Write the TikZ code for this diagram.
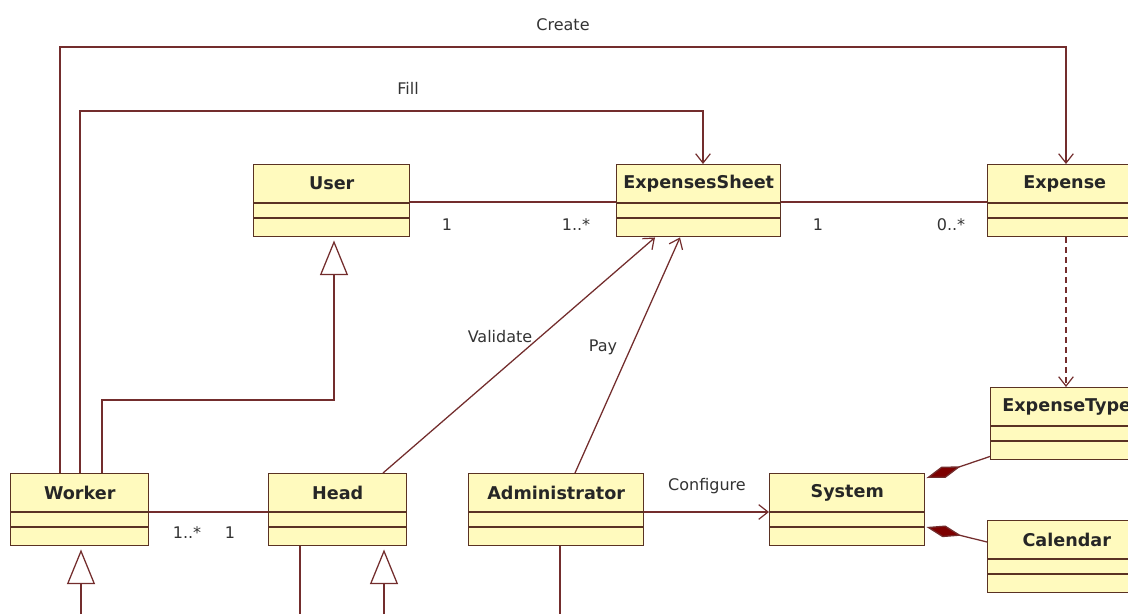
\documentclass[tikz,border=0pt]{standalone}
\usepackage{fontspec}
\setmainfont{DejaVu Sans}
\usetikzlibrary{arrows.meta,calc}

\definecolor{boxfill}{RGB}{255,250,190}
\definecolor{boxedge}{RGB}{90,50,35}
\definecolor{wire}{RGB}{115,45,45}
\definecolor{compfill}{RGB}{125,0,0}

\tikzset{
  classbox/.style={draw=boxedge, line width=1.1pt, fill=boxfill, rectangle,
                   inner sep=0pt, minimum height=54pt},
  classname/.style={font=\bfseries\fontsize{13.2}{15}\selectfont, text=black!85, inner sep=0pt},
  divider/.style={draw=boxedge, line width=1.1pt},
  wirestyle/.style={draw=wire, line width=0.95pt},
  opentip/.style={-{Straight Barb[length=7pt,width=11pt,line width=0.9pt]}},
  gentip/.style={-{Triangle[open,length=26pt,width=21pt,fill=white]}},
  comptip/.style={-{Diamond[length=27pt,width=9pt,fill=compfill]}},
  lbl/.style={font=\fontsize{12}{14}\selectfont, text=black!80, inner sep=0pt},
  dependency/.style={dash pattern=on 4.5pt off 3pt},
}

% class box: name, left x, top y, width (all in pixels), title
\newcommand{\umlclass}[5]{%
  \node[classbox, anchor=north west, minimum width=#4*0.75pt] (#1) at (#2,#3) {};
  \node[classname] (#1-name) at ($(#1.north)+(0,19.5)$) {#5};
  \draw[divider] ($(#1.north west)+(0,39)$) -- ($(#1.north east)+(0,39)$);
  \draw[divider] ($(#1.north west)+(0,54)$) -- ($(#1.north east)+(0,54)$);
}

\begin{document}
\begin{tikzpicture}[x=0.75pt, y=-0.75pt]
\fill[white] (0,0) rectangle (1128,614);
\clip (0,0) rectangle (1128,614);

% classes
\umlclass{user}{253}{164}{156}{User}
\umlclass{sheet}{616}{164}{164}{ExpensesSheet}
\umlclass{expense}{987}{164}{154}{Expense}
\umlclass{etype}{990}{387}{152}{ExpenseType}
\umlclass{worker}{10}{473}{138}{Worker}
\umlclass{head}{268}{473}{138}{Head}
\umlclass{admin}{468}{473}{175}{Administrator}
\umlclass{system}{769}{473}{155}{System}
\umlclass{calendar}{987}{520}{158}{Calendar}

% Create: Worker -> Expense
\coordinate (wk-c) at ($(worker.north west)+(50,0)$);
\coordinate (ex-c) at ($(expense.north west)+(79,0)$);
\coordinate (create-y) at (0,47);
\draw[wirestyle,opentip] (wk-c) -- (wk-c |- create-y) -- (ex-c |- create-y) -- (ex-c);
\node[lbl] (create-l) at (563,25) {Create};

% Fill: Worker -> ExpensesSheet
\coordinate (wk-f) at ($(worker.north west)+(70,0)$);
\coordinate (sh-f) at ($(sheet.north west)+(87,0)$);
\coordinate (fill-y) at (0,111);
\draw[wirestyle,opentip] (wk-f) -- (wk-f |- fill-y) -- (sh-f |- fill-y) -- (sh-f);
\node[lbl] (fill-l) at (408,88) {Fill};

% Worker specialises User
\coordinate (wk-g) at ($(worker.north west)+(92,0)$);
\coordinate (us-g) at ($(user.south west)+(81,3)$);
\coordinate (gen-y) at (0,400);
\draw[wirestyle,gentip] (wk-g) -- (wk-g |- gen-y) -- (us-g |- gen-y) -- (us-g);

% associations with multiplicities
\draw[wirestyle] ($(user.north east)+(0,38)$) -- ($(sheet.north west)+(0,38)$);
\node[lbl] (m-us1) at (447,225) {1};
\node[lbl] (m-us2) at (576,225) {1..*};
\draw[wirestyle] ($(sheet.north east)+(0,38)$) -- ($(expense.north west)+(0,38)$);
\node[lbl] (m-se1) at (818,225) {1};
\node[lbl] (m-se2) at (951,225) {0..*};
\draw[wirestyle] ($(worker.north east)+(0,39)$) -- ($(head.north west)+(0,39)$);
\node[lbl] (m-wh1) at (187,533) {1..*};
\node[lbl] (m-wh2) at (230,533) {1};

% Validate and Pay
\draw[wirestyle,opentip] ($(head.north west)+(115,0)$) -- ($(sheet.south west)+(39,0)$);
\node[lbl] (val-l) at (500,337) {Validate};
\draw[wirestyle,opentip] ($(admin.north west)+(107,0)$) -- ($(sheet.south west)+(64,0)$);
\node[lbl] (pay-l) at (603,347) {Pay};

% Configure
\draw[wirestyle,opentip] ($(admin.north east)+(0,39)$) -- ($(system.north west)+(0,39)$);
\node[lbl] (cfg-l) at (707,486) {Configure};

% Expense depends on ExpenseType
\draw[wirestyle,opentip,dependency] ($(expense.south west)+(79,0)$) -- ($(etype.north west)+(76,0)$);

% compositions into System
\draw[wirestyle,comptip] ($(etype.south west)+(0,-4)$) -- ($(system.north east)+(1,5)$);
\draw[wirestyle,comptip] ($(calendar.north west)+(0,22)$) -- ($(system.north east)+(1,54)$);

% links leaving below
\coordinate (wk-b) at (81,614);
\draw[wirestyle,gentip] (wk-b) -- ($(wk-b |- worker.south)+(0,3)$);
\coordinate (hd-b) at (384,614);
\draw[wirestyle,gentip] (hd-b) -- ($(hd-b |- head.south)+(0,3)$);
\coordinate (hd-o) at (300,614);
\draw[wirestyle] (hd-o |- head.south) -- (hd-o);
\coordinate (ad-o) at (560,614);
\draw[wirestyle] (ad-o |- admin.south) -- (ad-o);
\end{tikzpicture}
\end{document}
